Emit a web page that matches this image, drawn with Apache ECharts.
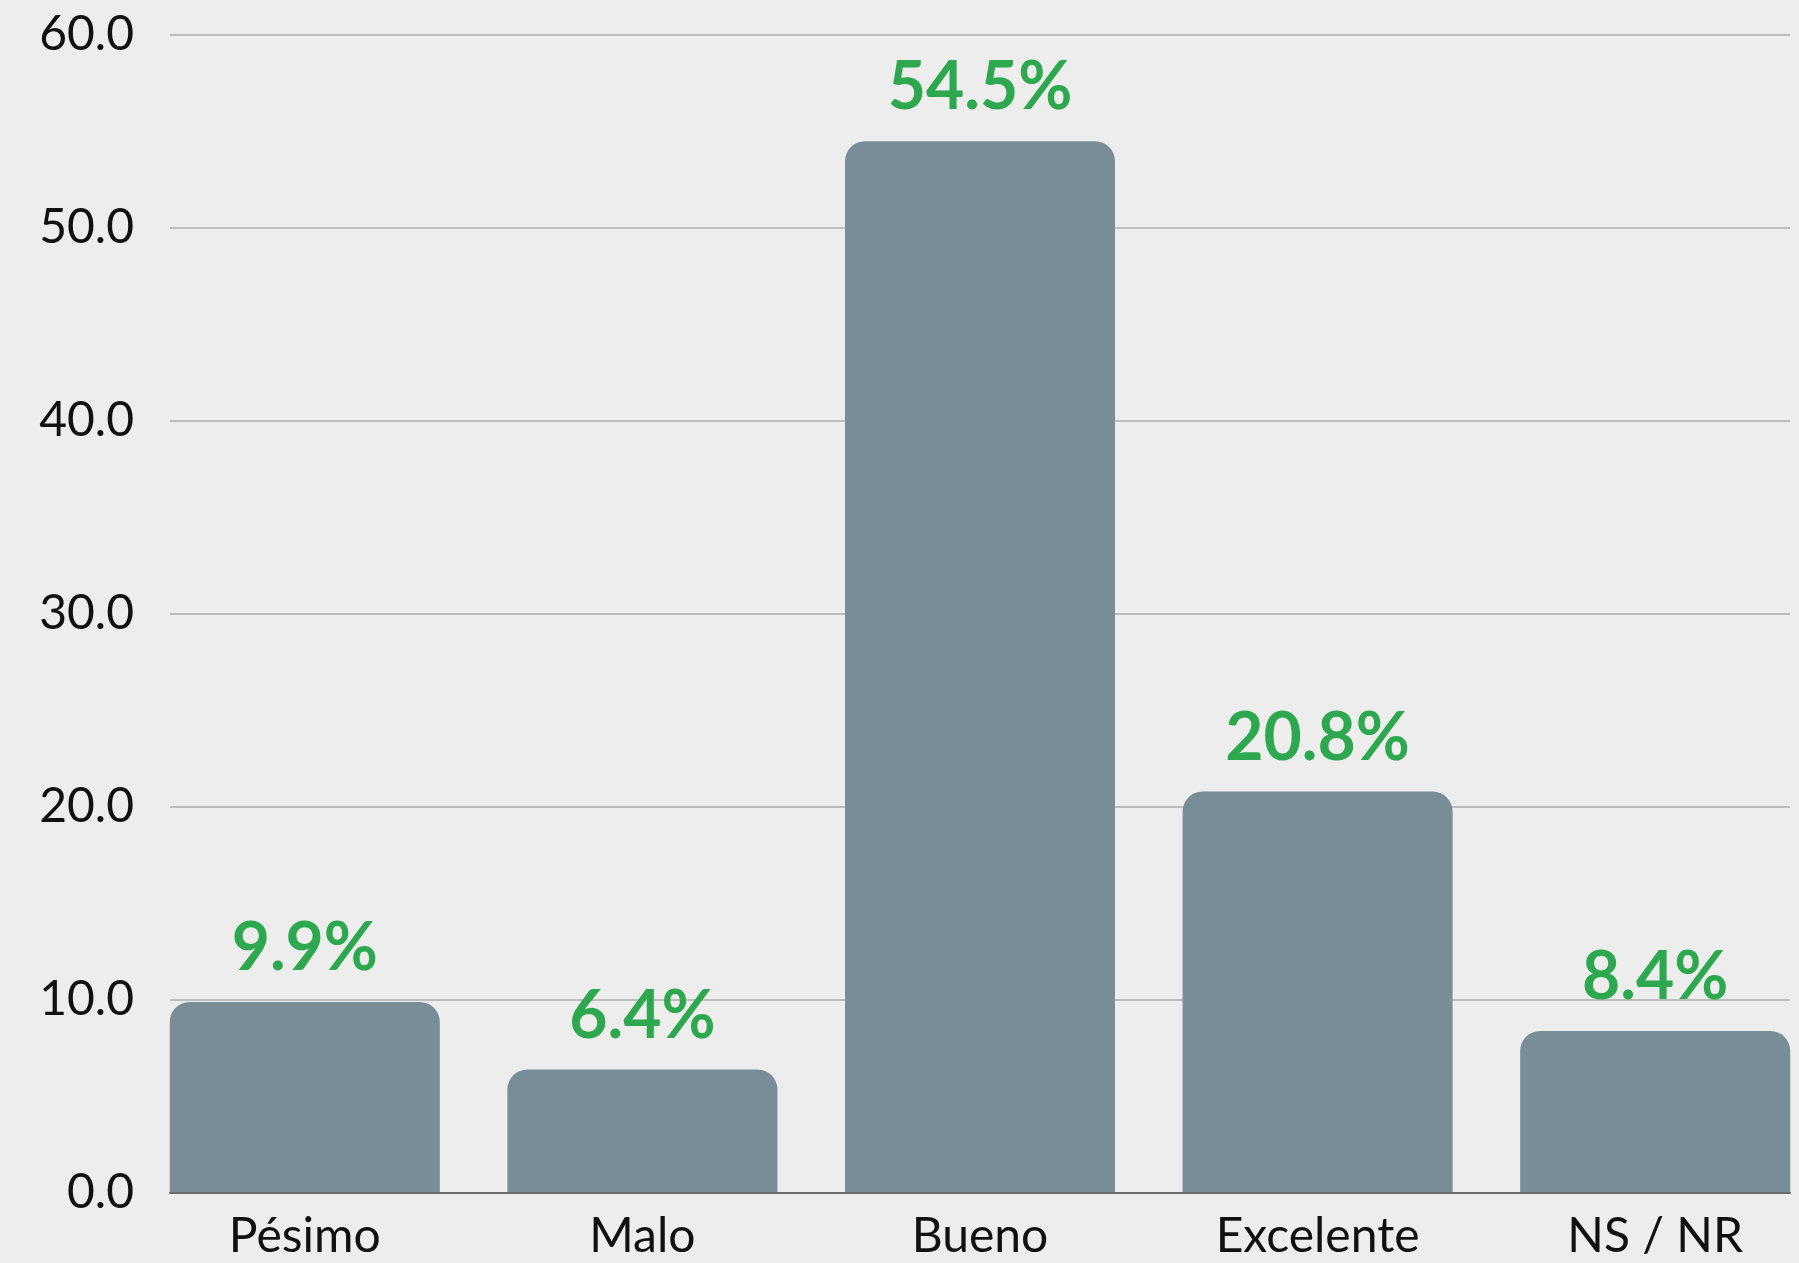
<!DOCTYPE html>
<html>
<head>
<meta charset="utf-8">
<script src="https://cdn.jsdelivr.net/npm/echarts@6/dist/echarts.min.js"></script>
<style>
  html, body { margin: 0; padding: 0; background: #ededed; }
  #chart { width: 1799px; height: 1263px; }
</style>
</head>
<body>
<div id="chart"></div>
<script>
// datos
const categorias = ["Pésimo", "Malo", "Bueno", "Excelente", "NS / NR"];
const porcentajes = [9.9, 6.4, 54.5, 20.8, 8.4];
const yMin = 0, yMax = 60, yPaso = 10;

const chart = echarts.init(document.getElementById("chart"));

const option = {
  backgroundColor: "#ededed",
  textStyle: { fontFamily: "Lato" },
  grid: [
    // rejilla con líneas y eje Y
    { left: 170, right: 9, top: 35, bottom: 70, outerBoundsMode: "none" },
    // rejilla de las barras (más ancha para que queden al ras)
    { left: 136, width: 1688, top: 35, bottom: 70, outerBoundsMode: "none" }
  ],
  xAxis: [
    {
      gridIndex: 0,
      type: "category",
      data: categorias,
      axisLine: { show: true, lineStyle: { color: "#6b6b6b", width: 2 } },
      axisTick: { show: false },
      axisLabel: { show: false },
      z: 10
    },
    {
      gridIndex: 1,
      type: "category",
      data: categorias,
      axisLine: { show: false },
      axisTick: { show: false },
      axisLabel: {
        color: "#111",
        fontFamily: "Lato",
        fontSize: 48,
        margin: 20
      }
    }
  ],
  yAxis: [
    {
      gridIndex: 0,
      type: "value",
      min: yMin,
      max: yMax,
      interval: yPaso,
      axisLine: { show: false },
      axisTick: { show: false },
      axisLabel: {
        color: "#111",
        fontFamily: "Lato",
        fontSize: 48,
        margin: 36,
        formatter: (v) => v.toFixed(1)
      },
      splitLine: { lineStyle: { color: "#bdbdbd", width: 2 } }
    },
    {
      gridIndex: 1,
      type: "value",
      min: yMin,
      max: yMax,
      interval: yPaso,
      show: false,
      splitLine: { show: false }
    }
  ],
  series: [
    {
      type: "bar",
      xAxisIndex: 1,
      yAxisIndex: 1,
      data: porcentajes,
      barWidth: 270,
      itemStyle: {
        color: "#798d99",
        borderRadius: [20, 20, 0, 0]
      },
      label: {
        show: true,
        position: "top",
        distance: 20,
        color: "#2ea84f",
        fontFamily: "Lato",
        fontWeight: "bold",
        fontSize: 66,
        formatter: (p) => p.value.toFixed(1) + "%"
      },
      z: 5
    }
  ]
};

chart.setOption(option);
</script>
</body>
</html>
